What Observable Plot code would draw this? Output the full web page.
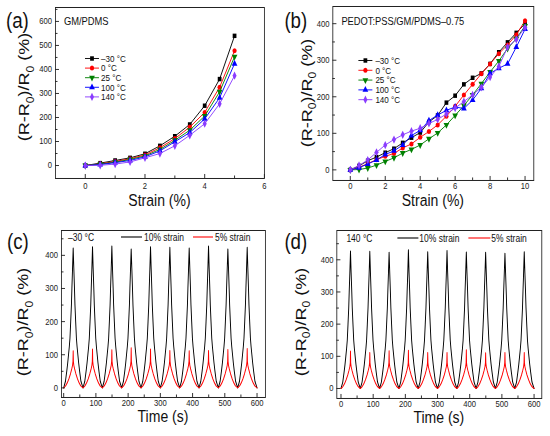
<!DOCTYPE html>
<html><head><meta charset="utf-8">
<script src="https://cdn.jsdelivr.net/npm/d3@7"></script>
<script src="https://cdn.jsdelivr.net/npm/@observablehq/plot@0.6"></script>
<style>
html,body{margin:0;padding:0;background:#fff;}
#fig{position:absolute;left:0;top:0;width:647px;height:436px;transform:scaleX(0.85);transform-origin:0 0;}
.panel{position:absolute;}
.panel svg{overflow:visible;}
</style></head><body><div id="fig"></div>
<script>
const SX = 0.85;
const FONT = '"Liberation Sans", Arial, Helvetica, sans-serif';

// ---------- data (a) GM/PDMS ----------
const strainA = [0, 0.5, 1, 1.5, 2, 2.5, 3, 3.5, 4, 4.5, 5];
const gmM30 = [0, 10, 21, 32, 49, 82, 122, 171, 249, 360, 540];
const gm0   = [0, 7, 17, 28, 44, 74, 112, 160, 221, 326, 478];
const gm25  = [0, 6, 14, 25, 40, 67, 105, 147, 206, 307, 453];
const gm100 = [0, 4, 12, 21, 36, 61, 99, 137, 194, 282, 424];
const gm140 = [0, 1, 6, 15, 32, 50, 82, 126, 174, 257, 374];

// ---------- data (b) PEDOT:PSS/GM/PDMS-0.75 ----------
const strainB = [0, 0.5, 1, 1.5, 2, 2.5, 3, 3.5, 4, 4.5, 5, 5.5, 6, 6.5, 7, 7.5, 8, 8.5, 9, 9.5, 10];
const pdM30 = [0, 11, 25, 35, 47, 58, 74, 88, 102, 131, 149, 184, 203, 234, 252, 264, 290, 322, 349, 375, 400];
const pd0   = [0, 7, 17, 28, 37, 45, 60, 71, 89, 105, 123, 147, 174, 205, 234, 263, 290, 318, 342, 370, 408];
const pd25  = [0, 1, 5, 13, 23, 33, 46, 56, 68, 85, 101, 123, 149, 176, 205, 236, 268, 298, 332, 359, 394];
const pd100 = [0, 6, 16, 27, 42, 52, 68, 94, 108, 135, 150, 163, 172, 168, 191, 223, 264, 278, 290, 336, 385];
const pd140 = [0, 12, 27, 48, 68, 83, 96, 106, 114, 127, 138, 153, 169, 187, 205, 226, 254, 283, 336, 357, 390];

const temps = ["\u201330 \u00B0C", "0 \u00B0C", "25 \u00B0C", "100 \u00B0C", "140 \u00B0C"];
const colors = ["#000000", "#ff0000", "#008000", "#0000ff", "#8a3cff"];

// ---------- data (c),(d) cyclic tests ----------
const cycleStarts = [0, 60, 120, 180, 240, 300, 360, 420, 480, 540];
const endTime = 600;
// one cycle of the 10% strain curve (peak slot filled per cycle)
const blackOffsets = [0, 5.5, 9.5, 12.5, 15, 17.5, 19.5, 21.8, 24, 25.5, 27.5, 29.5, 31.5, 33.5, 35, 37.2, 39.5, 41.5, 44, 46.5, 49.5, 53.5];
const blackShape   = [0, 20, 50, 75, 100, 125, 150, 200, 250, 300, 360, null, 360, 300, 250, 200, 150, 125, 100, 75, 50, 20];
// one cycle of the 5% strain curve
const redOffsets = [0, 6, 11, 16, 21, 25, 27.5, 28.8, 29.5, 30.2, 31.5, 34, 38, 43, 48, 53];
const redShape   = [0, 6, 15, 27, 42, 57, 68, 80, null, 80, 68, 57, 42, 27, 15, 6];
// per-cycle peak heights
const peaks10C = [422, 426, 428, 419, 426, 424, 422, 428, 419, 424];
const peaks5C  = [112, 117, 115, 121, 117, 113, 112, 113, 116, 119];
const peaks10D = [427, 426, 423, 431, 425, 429, 424, 423, 420, 425];
const peaks5D  = [116, 112, 117, 119, 112, 112, 120, 111, 112, 112];

// ---------- tick labels ----------
const xTicksA = [0, 2, 4, 6], xMinorA = [1, 3, 5];
const yTicksA = [0, 100, 200, 300, 400, 500, 600], yMinorA = [50, 150, 250, 350, 450, 550, 650];
const xTicksB = [0, 2, 4, 6, 8, 10], xMinorB = [1, 3, 5, 7, 9];
const yTicksB = [0, 100, 200, 300, 400], yMinorB = [50, 150, 250, 350];
const xTicksT = [0, 100, 200, 300, 400, 500, 600], xMinorT = [50, 150, 250, 350, 450, 550];
const yTicksT = [0, 100, 200, 300, 400], yMinorT = [50, 150, 250, 350, 450];

// ---------- helpers ----------
const triangleDown = {
  draw(context, size) {
    const y = -Math.sqrt(size / (Math.sqrt(3) * 3));
    context.moveTo(0, -y * 2);
    context.lineTo(-Math.sqrt(3) * y, y);
    context.lineTo(Math.sqrt(3) * y, y);
    context.closePath();
  }
};
const symbolsPlot = ["square", "circle", triangleDown, "triangle", "diamond"];
const symbolsD3 = [d3.symbolSquare, d3.symbolCircle, triangleDown, d3.symbolTriangle, d3.symbolDiamond];

function buildCycles(offsets, shape, peaks) {
  const rows = [];
  cycleStarts.forEach((t0, k) => {
    offsets.forEach((o, j) => rows.push({t: t0 + o, v: shape[j] === null ? peaks[k] : shape[j]}));
  });
  rows.push({t: endTime, v: 0});
  return rows;
}

const fig = document.getElementById("fig");
const PW = 275 / SX, PH = 218;

function text(s, x, y, str, size, anchor = "start") {
  return s.append("text").attr("x", x / SX).attr("y", y).attr("font-family", FONT)
    .attr("text-anchor", anchor).attr("font-size", size).attr("fill", "#111").text(str);
}

function panel(cfg) {
  const marks = [
    ...cfg.marks,
    Plot.axisX(cfg.xTicks, {tickSize: 0, tickPadding: cfg.xPad, label: null, fontSize: 9, fill: "#222"}),
    Plot.axisX(cfg.xTicks, {tickSize: 4, dy: -4, tickFormat: () => "", label: null, stroke: "#222"}),
    Plot.axisX(cfg.xMinor, {tickSize: 2.5, dy: -2.5, tickFormat: () => "", label: null, stroke: "#222"}),
    Plot.axisY(cfg.yTicks, {tickSize: 0, tickPadding: 4, label: null, fontSize: 9, fill: "#222"}),
    Plot.axisY(cfg.yTicks, {tickSize: 4 / SX, dx: 4 / SX, tickFormat: () => "", label: null, stroke: "#222"}),
    Plot.axisY(cfg.yMinor, {tickSize: 2.5 / SX, dx: 2.5 / SX, tickFormat: () => "", label: null, stroke: "#222"}),
    Plot.frame({stroke: "#222", strokeWidth: 1})
  ];
  const svg = Plot.plot({
    width: PW, height: PH,
    marginLeft: cfg.mL / SX, marginRight: cfg.mR / SX, marginTop: cfg.mT, marginBottom: cfg.mB,
    style: {fontFamily: FONT, fontSize: "9px", color: "#222", background: "transparent", overflow: "visible"},
    x: {domain: cfg.xDomain},
    y: {domain: cfg.yDomain},
    marks
  });
  const div = document.createElement("div");
  div.className = "panel";
  div.style.left = (cfg.left / SX) + "px";
  div.style.top = cfg.top + "px";
  div.appendChild(svg);
  fig.appendChild(div);
  const s = d3.select(svg);
  // panel letter
  text(s, cfg.letterX, cfg.letterY, cfg.letter, 22);
  // x title
  text(s, cfg.mL + (275 - cfg.mL - cfg.mR) / 2, cfg.xTitleY, cfg.xTitle, 16.5, "middle");
  // y title with subscripts
  const fs = 18;
  const yt = s.append("text")
    .attr("transform", `translate(${cfg.yTitleX / SX + fs * 0.35},${cfg.yTitleY}) rotate(-90)`)
    .attr("text-anchor", "middle").attr("font-family", FONT).attr("font-size", fs).attr("fill", "#111")
    .style("white-space", "pre");
  yt.append("tspan").text("(R-R");
  yt.append("tspan").attr("font-size", fs * 0.68).attr("dy", fs * 0.28).text("0");
  yt.append("tspan").attr("dy", -fs * 0.28).text(")/R");
  yt.append("tspan").attr("font-size", fs * 0.68).attr("dy", fs * 0.28).text("0");
  yt.append("tspan").attr("dy", -fs * 0.28).text(" (%)");
  return s;
}

function seriesMarks(xs, list) {
  const m = [];
  list.forEach((vals, i) => {
    const rows = xs.map((x, j) => ({x, y: vals[j]}));
    m.push(Plot.line(rows, {x: "x", y: "y", stroke: colors[i], strokeWidth: 1}));
    m.push(Plot.dot(rows, {x: "x", y: "y", symbol: symbolsPlot[i], fill: colors[i], r: 2.5}));
  });
  return m;
}

function symLegend(s, x1, x2, xm, xt, y0, step) {
  temps.forEach((label, i) => {
    const y = y0 + i * step;
    s.append("line").attr("x1", x1 / SX).attr("x2", x2 / SX).attr("y1", y).attr("y2", y)
      .attr("stroke", colors[i]).attr("stroke-width", 1);
    s.append("path").attr("d", d3.symbol().type(symbolsD3[i]).size(2.5 * 2.5 * Math.PI)())
      .attr("transform", `translate(${xm / SX},${y})`).attr("fill", colors[i]);
    text(s, xt, y + 3.3, label, 9.5);
  });
}

// ---------- (a) ----------
const sA = panel({
  left: 0, top: 0, mL: 55, mR: 11, mT: 7, mB: 40,
  xDomain: [-1, 6], yDomain: [-54, 658],
  xTicks: xTicksA, xMinor: xMinorA, yTicks: yTicksA, yMinor: yMinorA, xPad: 4,
  letter: "(a)", letterX: 6, letterY: 28.5,
  xTitle: "Strain (%)", xTitleY: 206, yTitleX: 24, yTitleY: 87,
  marks: seriesMarks(strainA, [gmM30, gm0, gm25, gm100, gm140])
});
text(sA, 64, 25, "GM/PDMS", 11);
symLegend(sA, 85, 99, 92, 101, 58.5, 9.6);

// ---------- (b) ----------
const sB = panel({
  left: 275, top: 0, mL: 57, mR: 17, mT: 6, mB: 38,
  xDomain: [-1, 10.5], yDomain: [-29, 447],
  xTicks: xTicksB, xMinor: xMinorB, yTicks: yTicksB, yMinor: yMinorB, xPad: 2.5,
  letter: "(b)", letterX: 9, letterY: 28.5,
  xTitle: "Strain (%)", xTitleY: 206, yTitleX: 31, yTitleY: 93,
  marks: seriesMarks(strainB, [pdM30, pd0, pd25, pd100, pd140])
});
text(sB, 66, 25, "PEDOT:PSS/GM/PDMS\u20130.75", 11);
symLegend(sB, 83, 97, 90, 100, 60.5, 9.8);

// ---------- (c) & (d) ----------
function cycMarks(p10, p5) {
  return [
    Plot.line(buildCycles(blackOffsets, blackShape, p10), {x: "t", y: "v", stroke: "#000", strokeWidth: 1.1}),
    Plot.line(buildCycles(redOffsets, redShape, p5), {x: "t", y: "v", stroke: "#ff0000", strokeWidth: 1.1})
  ];
}
function cycLegend(s, tempLabel, tx, y, bx1, bx2, btx, rx1, rx2, rtx) {
  text(s, tx, y + 4.5, tempLabel, 10);
  s.append("line").attr("x1", bx1 / SX).attr("x2", bx2 / SX).attr("y1", y).attr("y2", y).attr("stroke", "#000").attr("stroke-width", 1.1);
  text(s, btx, y + 3.8, "10% strain", 10);
  s.append("line").attr("x1", rx1 / SX).attr("x2", rx2 / SX).attr("y1", y).attr("y2", y).attr("stroke", "#ff0000").attr("stroke-width", 1.1);
  text(s, rtx, y + 3.8, "5% strain", 10);
}

const sC = panel({
  left: 0, top: 218, mL: 61, mR: 10, mT: 12, mB: 39,
  xDomain: [-7, 626], yDomain: [-29, 475],
  xTicks: xTicksT, xMinor: xMinorT, yTicks: yTicksT, yMinor: yMinorT, xPad: 2,
  letter: "(c)", letterX: 7, letterY: 31,
  xTitle: "Time (s)", xTitleY: 204, yTitleX: 23, yTitleY: 104,
  marks: cycMarks(peaks10C, peaks5C)
});
cycLegend(sC, "\u201330 \u00B0C", 68, 19, 121, 142, 144, 193, 213, 215);

const sD = panel({
  left: 275, top: 218, mL: 61, mR: 9, mT: 12, mB: 38,
  xDomain: [-13, 624], yDomain: [-31, 491],
  xTicks: xTicksT, xMinor: xMinorT, yTicks: yTicksT, yMinor: yMinorT, xPad: 2,
  letter: "(d)", letterX: 9, letterY: 31,
  xTitle: "Time (s)", xTitleY: 205.5, yTitleX: 25, yTitleY: 104,
  marks: cycMarks(peaks10D, peaks5D)
});
cycLegend(sD, "140 \u00B0C", 71, 20, 122, 143, 144, 193, 215, 216);
</script>
</body></html>
